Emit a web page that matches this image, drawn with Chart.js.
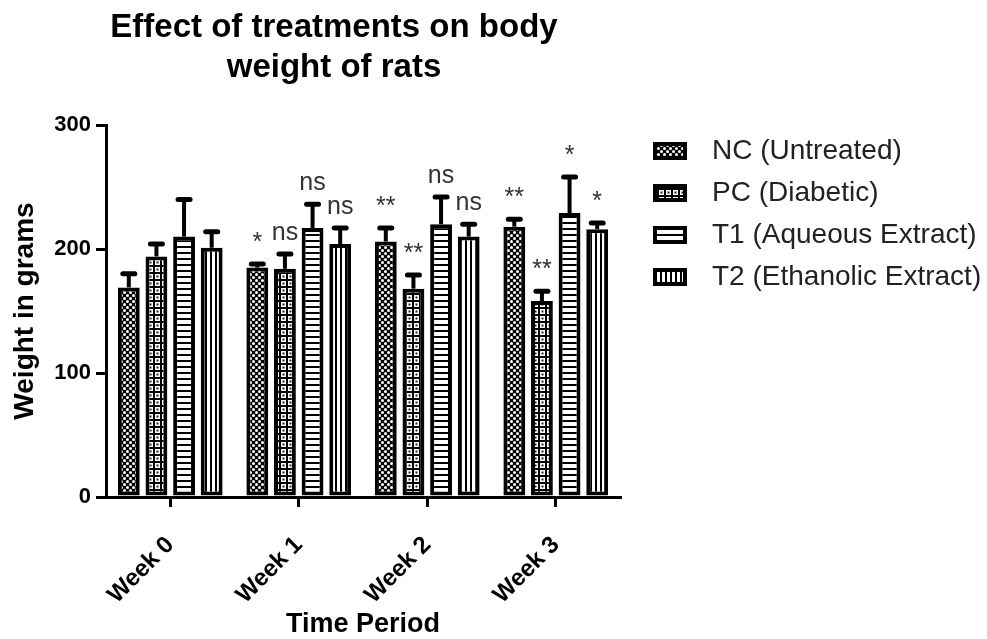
<!DOCTYPE html>
<html>
<head>
<meta charset="utf-8">
<script src="https://cdn.jsdelivr.net/npm/chart.js@4.4.1/dist/chart.umd.min.js"></script>
<style>
html, body { margin: 0; padding: 0; background: #fff; }
</style>
</head>
<body>
<canvas id="chartPeso" width="987" height="639"></canvas>
<script>
// datos
var weeks = ["Week 0", "Week 1", "Week 2", "Week 3"];
var seriesNames = ["NC (Untreated)", "PC (Diabetic)", "T1 (Aqueous Extract)", "T2 (Ethanolic Extract)"];
var ncMean = [169, 185, 206, 218];
var pcMean = [194, 184, 168, 158];
var t1Mean = [210, 217, 220, 229];
var t2Mean = [201, 204, 210, 216];
var ncErr = [11, 3, 11, 6];
var pcErr = [10, 12, 11, 8];
var t1Err = [30, 19, 22, 29];
var t2Err = [13, 13, 10, 5];
var ncSig = ["", "*", "**", "**"];
var pcSig = ["", "ns", "**", "**"];
var t1Sig = ["", "ns", "ns", "*"];
var t2Sig = ["", "ns", "ns", "*"];
var yTicks = [0, 100, 200, 300];
var titleLines = ["Effect of treatments on body", "weight of rats"];

var fam = "'Liberation Sans', Arial, sans-serif";
Chart.defaults.font.family = fam;

function makeTile(w, h, draw) {
    var c = document.createElement("canvas");
    c.width = w;
    c.height = h;
    draw(c.getContext("2d"), w, h);
    return c;
}
function dot(g, x, y, r) {
    g.beginPath();
    g.arc(x, y, r, 0, Math.PI * 2);
    g.fill();
}

var tiles = [
    makeTile(6, 6, function(g, w, h){
        g.fillStyle = "#000"; g.fillRect(0, 0, w, h);
        g.fillStyle = "#fff"; dot(g, 1.5, 1.5, 1.5); dot(g, 4.5, 4.5, 1.5);
    }),
    makeTile(7, 7, function(g, w, h){
        g.fillStyle = "#000"; g.fillRect(0, 0, w, h);
        g.fillStyle = "#fff"; g.fillRect(1, 1, 5, 5);
        g.fillStyle = "#222"; g.fillRect(2.5, 2.5, 2, 2);
    }),
    makeTile(1, 6, function(g, w, h){
        g.fillStyle = "#fff"; g.fillRect(0, 0, w, h);
        g.fillStyle = "#000"; g.fillRect(0, 0, w, 2);
    }),
    makeTile(5, 1, function(g, w, h){
        g.fillStyle = "#fff"; g.fillRect(0, 0, w, h);
        g.fillStyle = "#000"; g.fillRect(0, 0, 2, h);
    })
];

var ctx = document.getElementById("chartPeso").getContext("2d");
var fills = tiles.map(function(t){ return ctx.createPattern(t, "repeat"); });

var means = [ncMean, pcMean, t1Mean, t2Mean];
var errs = [ncErr, pcErr, t1Err, t2Err];
var sigs = [ncSig, pcSig, t1Sig, t2Sig];

var errorBars = {
    id: "errorBars",
    afterDatasetsDraw: function(chart) {
        var c = chart.ctx;
        var y = chart.scales.y;
        chart.data.datasets.forEach(function(ds, i) {
            var meta = chart.getDatasetMeta(i);
            meta.data.forEach(function(bar, j) {
                var top = y.getPixelForValue(ds.data[j] + errs[i][j]);
                c.save();
                c.strokeStyle = "#000";
                c.lineWidth = 4;
                c.beginPath();
                c.moveTo(bar.x, bar.y);
                c.lineTo(bar.x, top);
                c.stroke();
                c.lineWidth = 5;
                c.lineCap = "round";
                c.beginPath();
                c.moveTo(bar.x - 6, top);
                c.lineTo(bar.x + 6, top);
                c.stroke();
                if (sigs[i][j]) {
                    c.fillStyle = "#333";
                    c.font = "25px " + fam;
                    c.textAlign = "center";
                    c.textBaseline = "alphabetic";
                    c.fillText(sigs[i][j], bar.x, top - 14);
                }
                c.restore();
            });
        });
    }
};

// titulo y leyenda a mano, la leyenda de Chart.js no cabe a la derecha
var titleAndLegend = {
    id: "titleAndLegend",
    afterDraw: function(chart) {
        var c = chart.ctx;
        c.save();
        c.fillStyle = "#000";
        c.font = "bold 33px " + fam;
        c.textAlign = "center";
        c.textBaseline = "middle";
        titleLines.forEach(function(t, i){ c.fillText(t, 334, 28 + i * 40); });

        c.font = "28px " + fam;
        c.textAlign = "left";
        chart.data.datasets.forEach(function(ds, i) {
            var cy = 151 + i * 42;
            c.fillStyle = "#000";
            c.fillRect(653, cy - 9, 34, 18);
            c.fillStyle = ds.backgroundColor;
            c.fillRect(657, cy - 5, 26, 10);
            c.fillStyle = "#222";
            c.fillText(ds.label, 712, cy);
        });
        c.restore();
    }
};

var chartPeso = new Chart(ctx, {
    type: "bar",
    data: {
        labels: weeks,
        datasets: means.map(function(m, i) {
            return {
                label: seriesNames[i],
                data: m,
                backgroundColor: fills[i],
                borderColor: "#000",
                borderWidth: 4,
                borderSkipped: false,
                categoryPercentage: 0.86,
                barPercentage: 0.79
            };
        })
    },
    options: {
        responsive: false,
        animation: false,
        devicePixelRatio: 1,
        layout: { padding: { top: 125, right: 367, left: 0, bottom: 0 } },
        plugins: {
            tooltip: { enabled: false },
            title: { display: false },
            legend: { display: false }
        },
        scales: {
            x: {
                offset: true,
                grid: { display: true, drawOnChartArea: false, drawTicks: true, tickLength: 10, offset: false, color: "#000", lineWidth: 3 },
                border: { display: true, color: "#000", width: 3 },
                ticks: { color: "#000", font: { size: 24, weight: "bold" }, minRotation: 45, maxRotation: 45, padding: 24 },
                title: { display: true, text: "Time Period", color: "#000", font: { size: 27, weight: "bold", lineHeight: 1 }, padding: { top: 0, bottom: 1 } },
                afterFit: function(s) { s.height = 142; }
            },
            y: {
                min: 0,
                max: 300,
                afterBuildTicks: function(s) { s.ticks = yTicks.map(function(v){ return { value: v }; }); },
                grid: { display: true, drawOnChartArea: false, drawTicks: true, tickLength: 10, color: "#000", lineWidth: 3 },
                border: { display: true, color: "#000", width: 3 },
                ticks: { color: "#000", font: { size: 22, weight: "bold" }, padding: 5 },
                title: { display: true, text: "Weight in grams", color: "#000", font: { size: 28, weight: "bold", lineHeight: 1 }, padding: { top: 11, bottom: 0 } },
                afterFit: function(s) { s.width = 106; }
            }
        }
    },
    plugins: [errorBars, titleAndLegend]
});
</script>
</body>
</html>
